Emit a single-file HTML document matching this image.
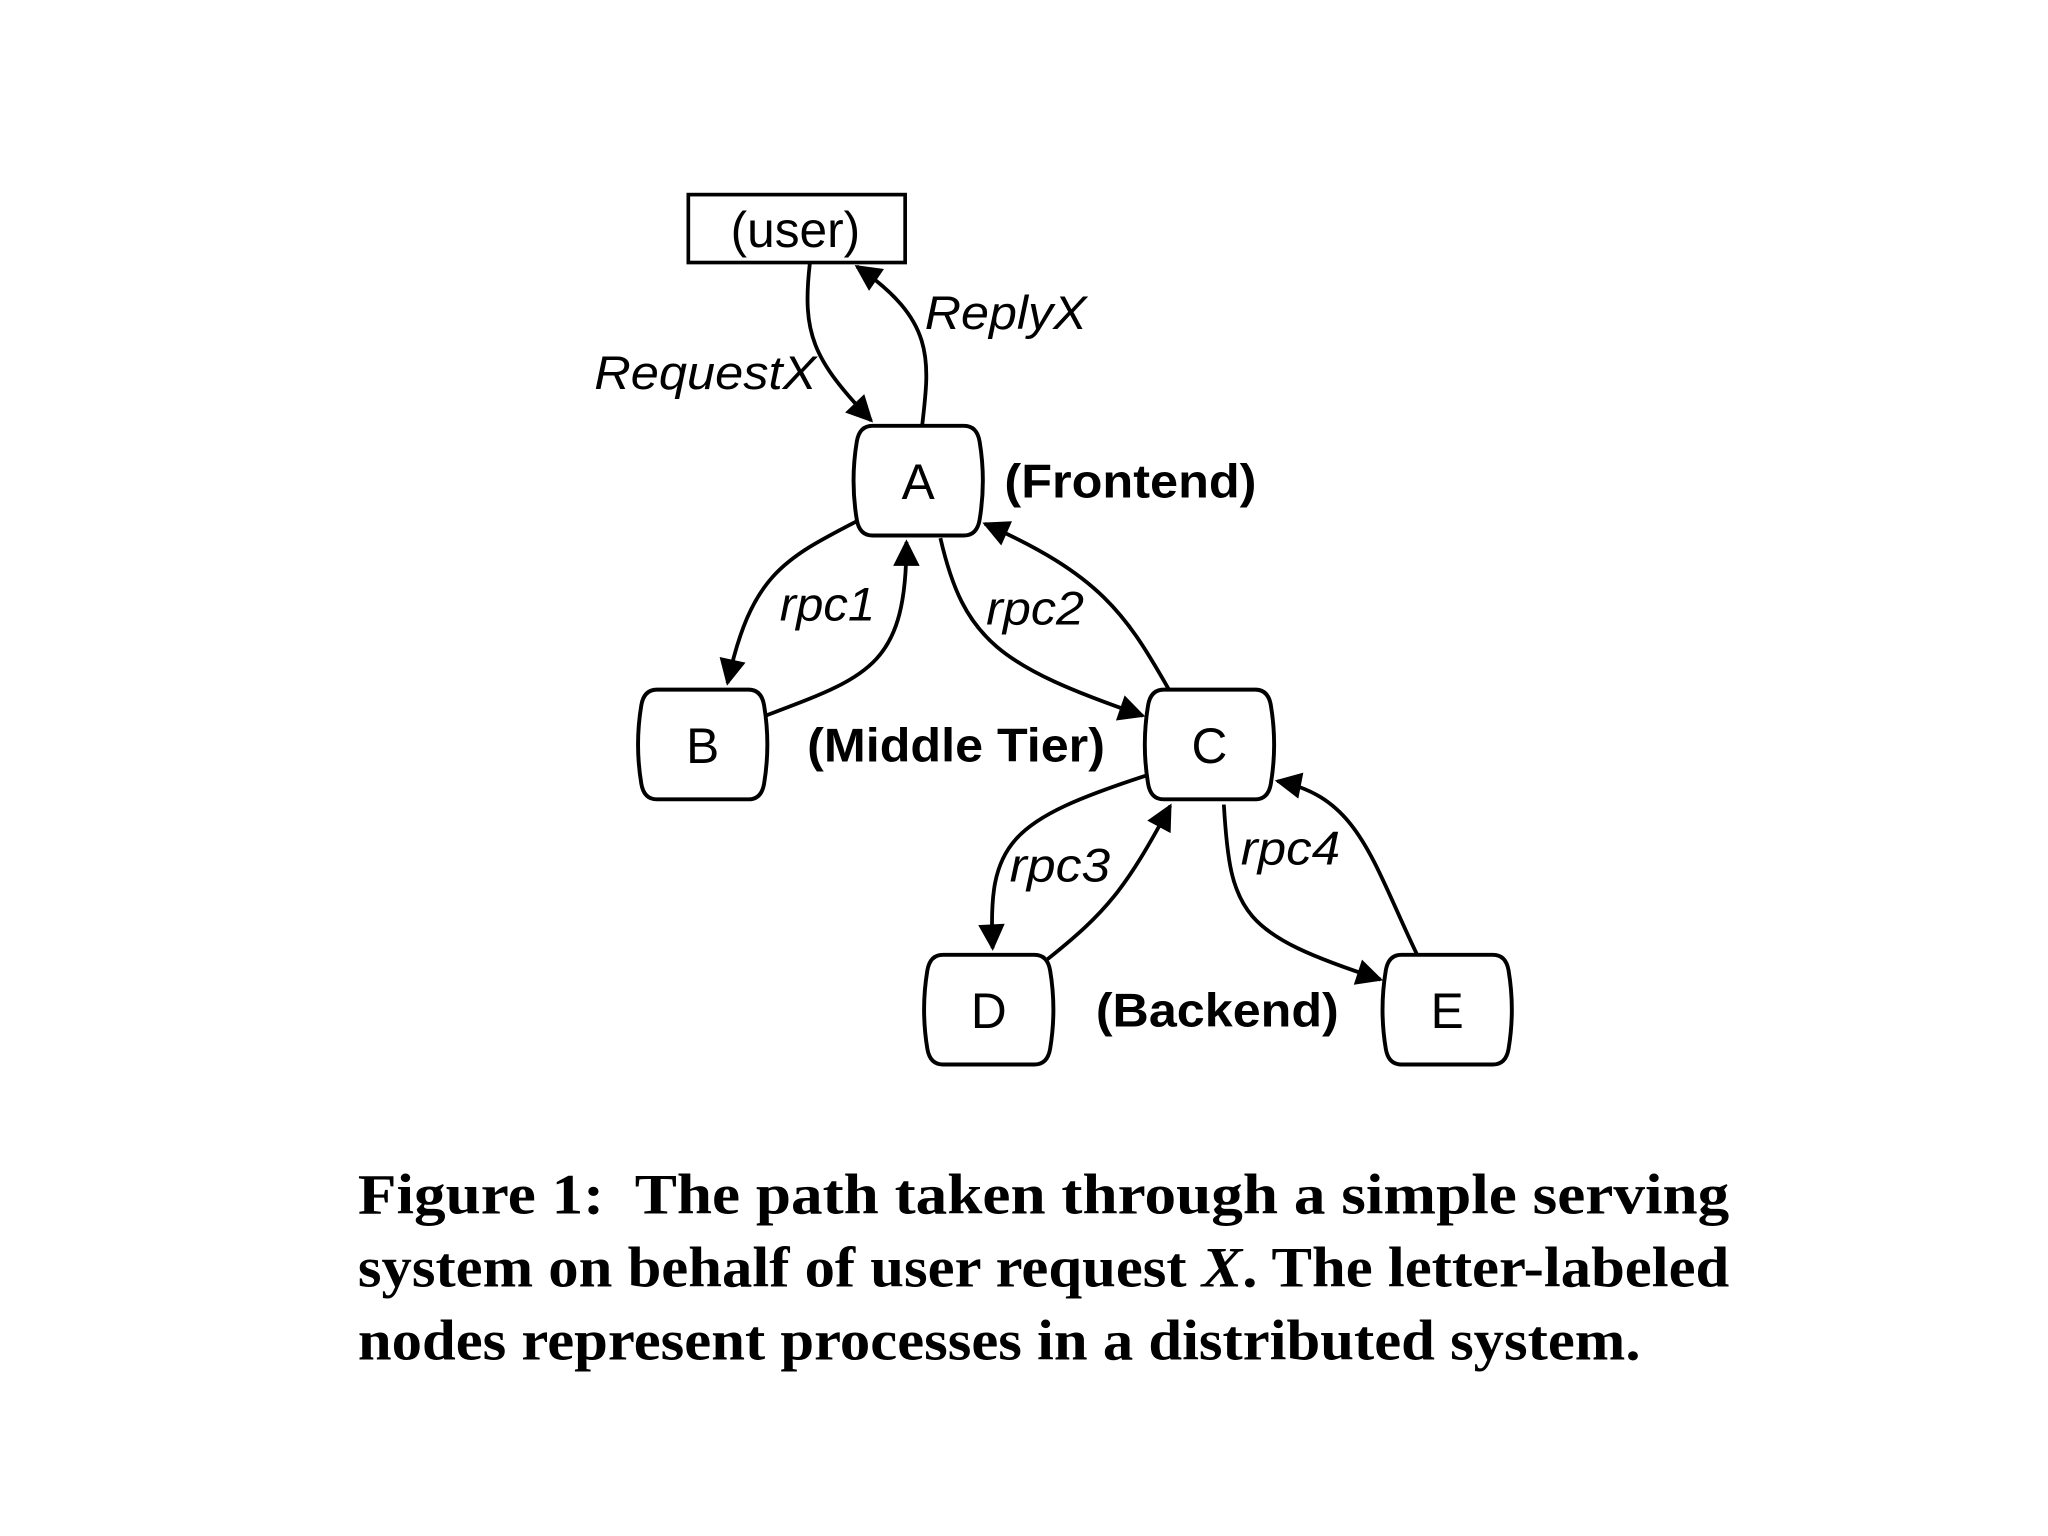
<!DOCTYPE html>
<html><head><meta charset="utf-8"><style>
html,body{margin:0;padding:0;background:#fff;}
svg{display:block;}
</style></head><body>
<svg width="2048" height="1536" viewBox="0 0 1568 1176" xmlns="http://www.w3.org/2000/svg">
<defs>
<marker id="ah" viewBox="0 0 10 10" refX="9" refY="5" markerWidth="9" markerHeight="7" markerUnits="strokeWidth" orient="auto">
<path d="M0,0 L10,5 L0,10 Z" fill="#000"/>
</marker>
<path id="node" d="M12,0 L82,0 Q92,0 94,12 Q99,42 94,72 Q92,84 82,84 L12,84 Q2,84 0,72 Q-5,42 0,12 Q2,0 12,0 Z" fill="#fff" stroke="#000" stroke-width="3"/>
</defs>
<rect width="1568" height="1176" fill="#fff"/>
<g fill="none" stroke="#000" stroke-width="2.9" marker-end="url(#ah)">
<path d="M620,202 C614,255 622,275 667,322"/>
<path d="M706,326 C712,275 716,245 656,204"/>
<path d="M658,398 C600,428 575,440 557,523"/>
<path d="M586,548 C665,518 694,510 694,415"/>
<path d="M720,412 C738,490 765,510 875,548"/>
<path d="M895,528 C862,470 842,440 754,401"/>
<path d="M880,593 C772,628 756,645 760,726"/>
<path d="M800,736 C848,698 862,680 896,617"/>
<path d="M937,616 C942,700 950,715 1057,750"/>
<path d="M1085,731 C1050,658 1040,610 978,598"/>
</g>
<rect x="527" y="149" width="166" height="52" fill="#fff" stroke="#000" stroke-width="2.8"/>
<use href="#node" x="656" y="326"/>
<use href="#node" x="491" y="528"/>
<use href="#node" x="879" y="528"/>
<use href="#node" x="710" y="731"/>
<use href="#node" x="1061" y="731"/>
<g font-family="Liberation Sans, sans-serif" font-size="38" text-anchor="middle" fill="#000">
<text x="609" y="189">(user)</text>
<text x="703" y="382">A</text>
<text x="538" y="584">B</text>
<text x="926" y="584">C</text>
<text x="757" y="787">D</text>
<text x="1108" y="787">E</text>
</g>
<g font-family="Liberation Sans, sans-serif" font-size="36" font-weight="bold" fill="#000">
<text x="769" y="381" textLength="193" lengthAdjust="spacingAndGlyphs">(Frontend)</text>
<text x="618" y="583" textLength="228" lengthAdjust="spacingAndGlyphs">(Middle Tier)</text>
<text x="839" y="786" textLength="186" lengthAdjust="spacingAndGlyphs">(Backend)</text>
</g>
<g font-family="Liberation Sans, sans-serif" font-size="36" font-style="italic" fill="#000">
<text x="455" y="298" textLength="170" lengthAdjust="spacingAndGlyphs">RequestX</text>
<text x="708" y="252" textLength="124" lengthAdjust="spacingAndGlyphs">ReplyX</text>
<text x="597" y="475" textLength="73" lengthAdjust="spacingAndGlyphs">rpc1</text>
<text x="755" y="478" textLength="75" lengthAdjust="spacingAndGlyphs">rpc2</text>
<text x="773" y="675" textLength="77" lengthAdjust="spacingAndGlyphs">rpc3</text>
<text x="950" y="662" textLength="76" lengthAdjust="spacingAndGlyphs">rpc4</text>
</g>
<g font-family="Liberation Serif, serif" font-size="44" font-weight="bold" fill="#000">
<text x="274" y="929" textLength="1050" lengthAdjust="spacingAndGlyphs">Figure 1:&#160; The path taken through a simple serving</text>
<text x="274" y="985" textLength="1050" lengthAdjust="spacingAndGlyphs">system on behalf of user request <tspan font-style="italic">X</tspan>. The letter-labeled</text>
<text x="274" y="1041" textLength="982" lengthAdjust="spacingAndGlyphs">nodes represent processes in a distributed system.</text>
</g>
</svg>
</body></html>
